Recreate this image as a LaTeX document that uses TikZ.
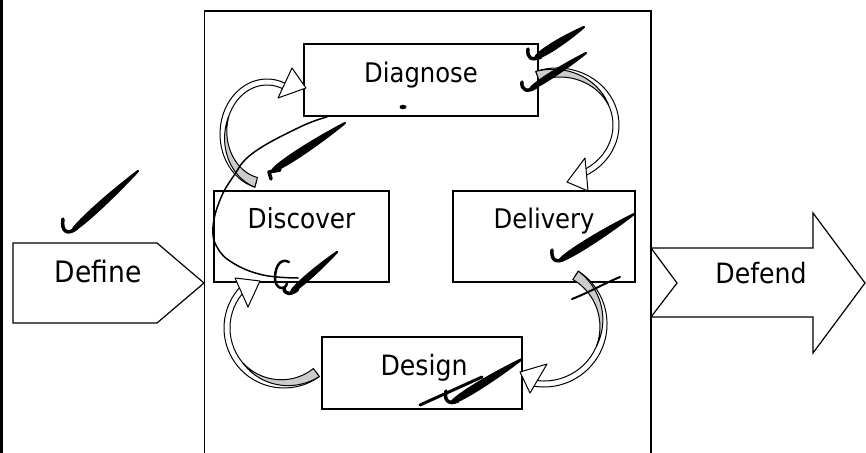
\documentclass[tikz,border=0pt]{standalone}
\usepackage{fontspec}
\setmainfont{DejaVu Sans Condensed}
\usetikzlibrary{calc}
\definecolor{BandGrey}{RGB}{204,204,204}

\tikzset{
  box/.style={draw, line width=1.2pt, fill=white, inner sep=0pt},
  word/.style={anchor=base, inner sep=0pt, font=\fontsize{27}{31}\selectfont},
  front/.style={draw, line width=1pt, fill=white, line join=round},
  back/.style={draw, line width=1pt, fill=BandGrey, line join=round},
  ink/.style={line width=3.5pt, line cap=round, line join=round},
  pen/.style={line width=1.6pt, line cap=round}
}

% curved block arrow on an elliptic arc: centre, x radius, y radius,
% tail angle, head angle, then the three corners of its head
\newcommand{\bandarrow}[8]{%
  \pgfmathsetmacro{\bandmid}{#4+0.5*(#5-(#4))}
  \begin{scope}[shift={#1}]
    \path[front] (#4:{#2+3} and {#3+3}) arc[start angle=#4, end angle=#5, x radius=#2+3, y radius=#3+3]
      -- (#5:{#2-3} and {#3-3}) arc[start angle=#5, end angle=#4, x radius=#2-3, y radius=#3-3] -- cycle;
    \path[back] plot[domain=#4:\bandmid, samples=30]
        (\x:{#2-3+6*(\x-(\bandmid))/(#4-(\bandmid))} and {#3-3+6*(\x-(\bandmid))/(#4-(\bandmid))})
      -- plot[domain=\bandmid:#4, samples=30]
        (\x:{#2-3-4*(\x-(\bandmid))/(#4-(\bandmid))} and {#3-3-4*(\x-(\bandmid))/(#4-(\bandmid))}) -- cycle;
  \end{scope}
  \path[front] #6 -- #7 -- #8 -- cycle;
}

% tapered pen stroke from #1 to #2, #3 = bulge
\newcommand{\inkstroke}[3]{%
  \filldraw[line width=2.2pt, line join=round] #1 .. controls ($#1!0.05!#2!#3!90:#2$) and ($#1!0.55!#2!#3!90:#2$) .. #2
    .. controls ($#1!0.55!#2!#3!-90:#2$) and ($#1!0.05!#2!#3!-90:#2$) .. cycle;
}

\begin{document}
\begin{tikzpicture}[x=1pt, y=-1pt]
  \useasboundingbox (0,0) rectangle (866,452);
  \fill[white] (0,0) rectangle (866,452);
  \clip (0,0) rectangle (866,452);

  % frame
  \draw[line width=3.3pt] (1.7,-5) -- (1.7,460);
  \draw[line width=1.2pt] (204.5,470) -- (204.5,11) -- (651,11) -- (651,470);

  % entry and exit arrows
  \draw[line width=1.2pt, fill=white] (13,243) -- (157,243) -- (204,283) -- (157,323) -- (13,323) -- cycle;
  \draw[line width=1.2pt, fill=white] (651,248) -- (813,248) -- (813,213) -- (865,283) -- (813,353)
    -- (813,317) -- (651,317) -- (677,283) -- cycle;
  \node[word, font=\fontsize{29.5}{33}\selectfont] (define) at (98,282) {Define};
  \node[word, font=\fontsize{28}{32}\selectfont] (defend) at (761,283) {Defend};

  % the four stages
  \node[box, minimum width=234pt, minimum height=72pt] (diagnose) at (421,80) {};
  \node[box, minimum width=175pt, minimum height=91pt] (discover) at (301.5,236.5) {};
  \node[box, minimum width=182pt, minimum height=91pt] (delivery) at (544,236.5) {};
  \node[box, minimum width=200pt, minimum height=72pt] (design) at (422,373) {};
  \node[word] (diagnose-txt) at (421,82) {Diagnose};
  \node[word, font=\fontsize{27.5}{31}\selectfont] (discover-txt) at (301.5,228) {Discover};
  \node[word] (delivery-txt) at (544,228) {Delivery};
  \node[word, font=\fontsize{28}{32}\selectfont] (design-txt) at (424,375) {Design};

  % cycle arrows
  \bandarrow{(267,134)}{44}{52}{105}{296}{(292,68)}{(306,88)}{(278,98)}
  \bandarrow{(557,125)}{59}{54}{250}{424}{(585,158)}{(567,182)}{(588,191)}
  \bandarrow{(544,324)}{60}{60}{-57}{102}{(547,364)}{(520,372)}{(530,393)}
  \bandarrow{(284,328)}{57}{57}{54}{225}{(248,307)}{(235,278)}{(260,281)}

  % pen marks
  \draw[pen, line width=1.5pt] plot[smooth, tension=0.7] coordinates {(327,117) (300,127) (253,153) (233,177)
    (220,200) (213,227) (217,247) (233,263) (263,275) (298,278)};
  \draw[ink] (63,219) .. controls (61,231) and (67,236) .. (77,228);
  \inkstroke{(72,231)}{(138,171)}{3.5pt}
  \draw[ink] (528,49) .. controls (527,58) and (531,61) .. (541,57);
  \inkstroke{(535,58)}{(584,27)}{4pt}
  \draw[ink] (522,82) .. controls (521,90) and (527,93) .. (536,87);
  \inkstroke{(530,89)}{(586,53)}{3pt}
  \fill (403,107) ellipse (3.5 and 2.2);
  \draw[ink] (271,179) -- (269,172) -- (280,170);
  \inkstroke{(272,171)}{(345,123)}{4pt}
  \draw[pen, line width=2.5pt] (289,262) .. controls (281,258) and (276,265) .. (275,276)
    .. controls (274,290) and (286,291) .. (287,283);
  \draw[ink] (284,288) .. controls (284,295) and (292,295) .. (298,289);
  \inkstroke{(291,292)}{(337,252)}{3pt}
  \draw[ink] (552,250) .. controls (551,260) and (556,264) .. (566,258);
  \inkstroke{(559,261)}{(634,214)}{4pt}
  \draw[pen, line width=2pt] (572,299) .. controls (590,292) and (605,283) .. (620,277);
  \draw[pen, line width=3pt] (420,405) -- (482,377);
  \draw[ink] (446,391) .. controls (444,400) and (448,405) .. (458,401);
  \inkstroke{(451,403)}{(522,359)}{4pt}
\end{tikzpicture}
\end{document}
